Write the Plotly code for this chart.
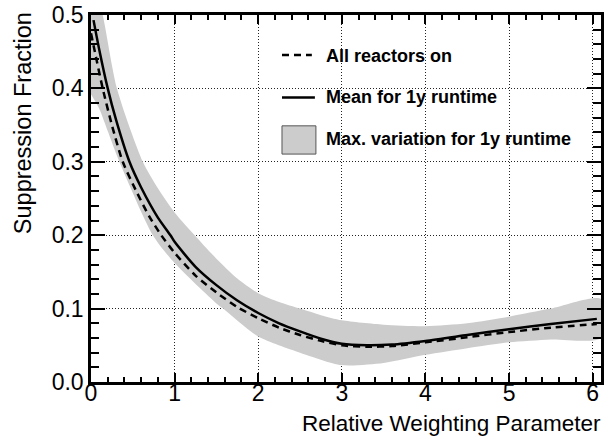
import plotly.graph_objects as go

# ---- data ----
x_all = [0.0, 0.07, 0.14, 0.25, 0.38, 0.55, 0.7, 0.84, 1.0, 1.25, 1.5, 1.75, 2.0,
         2.25, 2.5, 2.75, 3.0, 3.3, 3.6, 4.0, 4.5, 5.0, 5.5, 6.05]
y_all = [0.475, 0.437, 0.400, 0.350, 0.300, 0.258, 0.225, 0.200, 0.176, 0.145, 0.122,
         0.102, 0.087, 0.074, 0.064, 0.056, 0.050, 0.048, 0.049, 0.054, 0.061, 0.068,
         0.074, 0.079]

x_mean = [0.03, 0.1, 0.2, 0.3, 0.46, 0.6, 0.8, 0.95, 1.0, 1.25, 1.5, 1.75, 2.0, 2.25,
          2.5, 2.75, 3.0, 3.3, 3.6, 4.0, 4.5, 5.0, 5.5, 6.05]
y_mean = [0.493, 0.452, 0.400, 0.357, 0.300, 0.265, 0.224, 0.200, 0.191, 0.157, 0.132,
          0.111, 0.094, 0.080, 0.069, 0.059, 0.052, 0.050, 0.051, 0.056, 0.064, 0.072,
          0.079, 0.086]

x_upper = [0.0, 0.14, 0.31, 0.62, 0.8, 1.0, 1.24, 1.5, 1.75, 2.0, 2.25, 2.5, 2.75, 3.0,
           3.5, 4.0, 4.5, 5.0, 5.5, 6.1]
y_upper = [0.56, 0.50, 0.40, 0.30, 0.264, 0.231, 0.200, 0.168, 0.141, 0.121, 0.109,
           0.100, 0.091, 0.084, 0.078, 0.076, 0.080, 0.089, 0.100, 0.113]

x_lower = [0.0, 0.1, 0.2, 0.34, 0.74, 1.0, 1.5, 1.58, 2.0, 2.5, 3.0, 3.5, 4.0, 4.5,
           5.0, 5.5, 6.1]
y_lower = [0.392, 0.372, 0.342, 0.300, 0.200, 0.162, 0.107, 0.100, 0.062, 0.040, 0.023,
           0.026, 0.037, 0.046, 0.054, 0.058, 0.060]

x_ticks = [0, 1, 2, 3, 4, 5, 6]
y_ticks = [0.0, 0.1, 0.2, 0.3, 0.4, 0.5]

names = ["All reactors on", "Mean for 1y runtime", "Max. variation for 1y runtime"]

FONT = "Liberation Sans, Arial, sans-serif"
BAND = "#cccccc"

fig = go.Figure()

# band polygon (upper forward, lower reversed)
fig.add_trace(go.Scatter(
    x=x_upper + x_lower[::-1], y=y_upper + y_lower[::-1],
    mode="lines", fill="toself", fillcolor=BAND, name=names[2],
    line=dict(color=BAND, width=0, shape="spline", smoothing=0.7),
    showlegend=False, hoverinfo="skip"))

fig.add_trace(go.Scatter(
    x=x_all, y=y_all, mode="lines", name=names[0], showlegend=False,
    line=dict(color="black", width=2.5, dash="7px,5px", shape="spline", smoothing=0.7)))

fig.add_trace(go.Scatter(
    x=x_mean, y=y_mean, mode="lines", name=names[1], showlegend=False,
    line=dict(color="black", width=2.5, shape="spline", smoothing=0.7)))

axis_common = dict(
    showline=True, linewidth=2.5, linecolor="black", mirror="ticks",
    ticks="inside", tickcolor="black", tickwidth=1.5,
    showgrid=True, gridcolor="#222222", griddash="1px,2px", gridwidth=1,
    zeroline=False, automargin=False, ticklabeloverflow="allow",
    tickfont=dict(family=FONT, size=23, color="black"),
)

fig.update_xaxes(range=[0, 6.1], tickvals=x_ticks, ticktext=[str(v) for v in x_ticks],
                 ticklen=9, ticklabelstandoff=-11,
                 minor=dict(dtick=0.2, ticks="inside", ticklen=5, tickcolor="black",
                            tickwidth=1.5, showgrid=False),
                 **axis_common)
fig.update_yaxes(range=[0, 0.5], tickvals=y_ticks, ticktext=[f"{v:.1f}" for v in y_ticks],
                 ticklen=14,
                 minor=dict(dtick=0.02, ticks="inside", ticklen=8, tickcolor="black",
                            tickwidth=1.5, showgrid=False),
                 **axis_common)

# ---- legend drawn in paper coordinates ----
LX0, LX1 = 0.3745, 0.437
TX = 0.457
legend_shapes = [
    dict(type="line", xref="paper", yref="paper", x0=LX0, x1=LX1 - 0.004, y0=0.891, y1=0.891,
         line=dict(color="black", width=2.5, dash="7px,5px")),
    dict(type="line", xref="paper", yref="paper", x0=LX0, x1=LX1 + 0.002, y0=0.775, y1=0.775,
         line=dict(color="black", width=2.5)),
    dict(type="rect", xref="paper", yref="paper", x0=LX0, x1=LX1 + 0.004, y0=0.621, y1=0.698,
         fillcolor=BAND, line=dict(color="#555555", width=1)),
]
legend_texts = [(names[0], 0.887), (names[1], 0.777), (names[2], 0.661)]

annotations = [
    dict(text=f"<b>{t}</b>", xref="paper", yref="paper", x=TX, y=yy, xanchor="left",
         yanchor="middle", showarrow=False,
         font=dict(family=FONT, size=18, color="black"))
    for t, yy in legend_texts
]
annotations += [
    dict(text="Relative Weighting Parameter", xref="paper", yref="paper",
         x=1.004, y=-0.1144, xanchor="right", yanchor="middle", showarrow=False,
         font=dict(family=FONT, size=22.5, color="black")),
    dict(text="Suppression Fraction", xref="paper", yref="paper",
         x=-0.133, y=1.0136, xanchor="center", yanchor="top", textangle=-90,
         showarrow=False, font=dict(family=FONT, size=23.5, color="black")),
]

fig.update_layout(
    width=610, height=441,
    margin=dict(l=91, r=9, t=15, b=59),
    paper_bgcolor="white", plot_bgcolor="white",
    font=dict(family=FONT, color="black"),
    showlegend=False,
    hovermode=False,
    shapes=legend_shapes,
    annotations=annotations,
)

# remove the default 8px page margin so the figure sits at the window's corner
fig.write_html("out.html",
               config={"displayModeBar": False},
               post_script="document.body.style.margin='0px';document.body.style.overflow='hidden';")
